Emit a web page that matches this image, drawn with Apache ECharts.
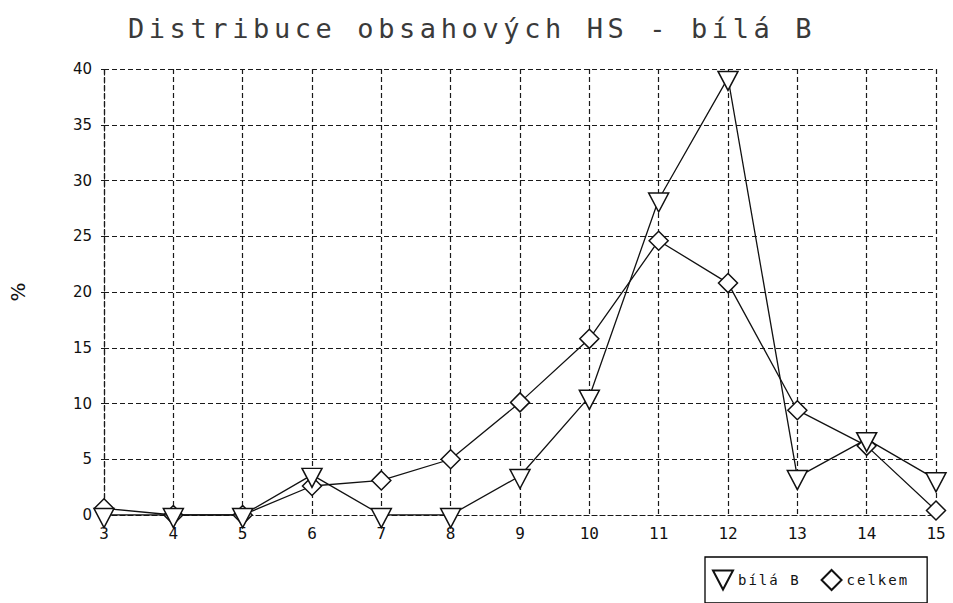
<!DOCTYPE html>
<html>
<head>
<meta charset="utf-8">
<script src="https://cdn.jsdelivr.net/npm/echarts@6/dist/echarts.min.js"></script>
<style>
html, body { margin: 0; padding: 0; background: #fff; }
#chart { width: 953px; height: 603px; }
#chart text[fill="#3a3a3a"] { letter-spacing: 4.6px; }
#chart text[fill="#121212"] { letter-spacing: 2px; }
</style>
</head>
<body>
<div id="chart"></div>
<script>
const titleText = 'Distribuce obsahových HS - bílá B';
const xValues = [3, 4, 5, 6, 7, 8, 9, 10, 11, 12, 13, 14, 15];
const bilaB = [0, 0, 0, 3.6, 0, 0, 3.5, 10.6, 28.3, 39.2, 3.4, 6.8, 3.2];
const celkem = [0.6, 0, 0, 2.6, 3.1, 5, 10.1, 15.8, 24.6, 20.8, 9.4, 6.2, 0.4];
const seriesNames = ['bílá B', 'celkem'];
const yAxisName = '%';

const triPath = 'path://M0,0 L20,0 L10,19 Z';
const diaPath = 'path://M10,0 L20,10 L10,20 L0,10 Z';

const chart = echarts.init(document.getElementById('chart'), null, { renderer: 'svg' });
const dash = [5, 3];
const gridLine = { show: true, lineStyle: { color: '#1a1a1a', width: 1.2, type: dash } };

chart.setOption({
  animation: false,
  backgroundColor: '#fff',
  title: {
    text: titleText,
    left: 467, top: 10, textAlign: 'center',
    textStyle: { fontFamily: 'DejaVu Sans Mono', fontSize: 27, fontWeight: 'normal', color: '#3a3a3a' }
  },
  grid: { left: 104, right: 17, top: 69, bottom: 88 },
  legend: {
    left: 705, top: 557,
    padding: [12, 30, 12, 7],
    borderColor: '#000', borderWidth: 1.3,
    itemWidth: 20, itemHeight: 20, itemGap: 32,
    textStyle: { fontFamily: 'DejaVu Sans Mono', fontSize: 14, color: '#121212' },
    data: [
      { name: seriesNames[0], icon: triPath },
      { name: seriesNames[1], icon: diaPath }
    ]
  },
  xAxis: {
    type: 'value', min: 3, max: 15, interval: 1,
    axisLine: { show: true, onZero: false, lineStyle: { color: '#1a1a1a', width: 1.2, type: dash } },
    axisTick: { show: false },
    splitLine: gridLine,
    axisLabel: { margin: 10, fontFamily: 'DejaVu Sans Mono', fontSize: 16, color: '#111' }
  },
  yAxis: {
    type: 'value', min: 0, max: 40, interval: 5,
    name: yAxisName, nameLocation: 'middle', nameGap: 76, nameRotate: 90,
    nameTextStyle: { fontFamily: 'DejaVu Sans', fontSize: 20, color: '#111' },
    axisLine: { show: true, lineStyle: { color: '#1a1a1a', width: 1.2, type: dash } },
    axisTick: { show: true, length: 3, lineStyle: { color: '#1a1a1a' } },
    splitLine: gridLine,
    axisLabel: { margin: 12, fontFamily: 'DejaVu Sans', fontSize: 15, color: '#111' }
  },
  series: [
    {
      name: seriesNames[0], type: 'line',
      data: xValues.map((x, i) => [x, bilaB[i]]),
      symbol: triPath, symbolSize: [20, 19], symbolOffset: [0, 3],
      lineStyle: { color: '#111', width: 1.3 },
      itemStyle: { color: '#fff', borderColor: '#111', borderWidth: 1.5 },
      z: 3
    },
    {
      name: seriesNames[1], type: 'line',
      data: xValues.map((x, i) => [x, celkem[i]]),
      symbol: diaPath, symbolSize: [19, 19],
      lineStyle: { color: '#111', width: 1.3 },
      itemStyle: { color: '#fff', borderColor: '#111', borderWidth: 1.5 },
      z: 2
    }
  ]
});
</script>
</body>
</html>
